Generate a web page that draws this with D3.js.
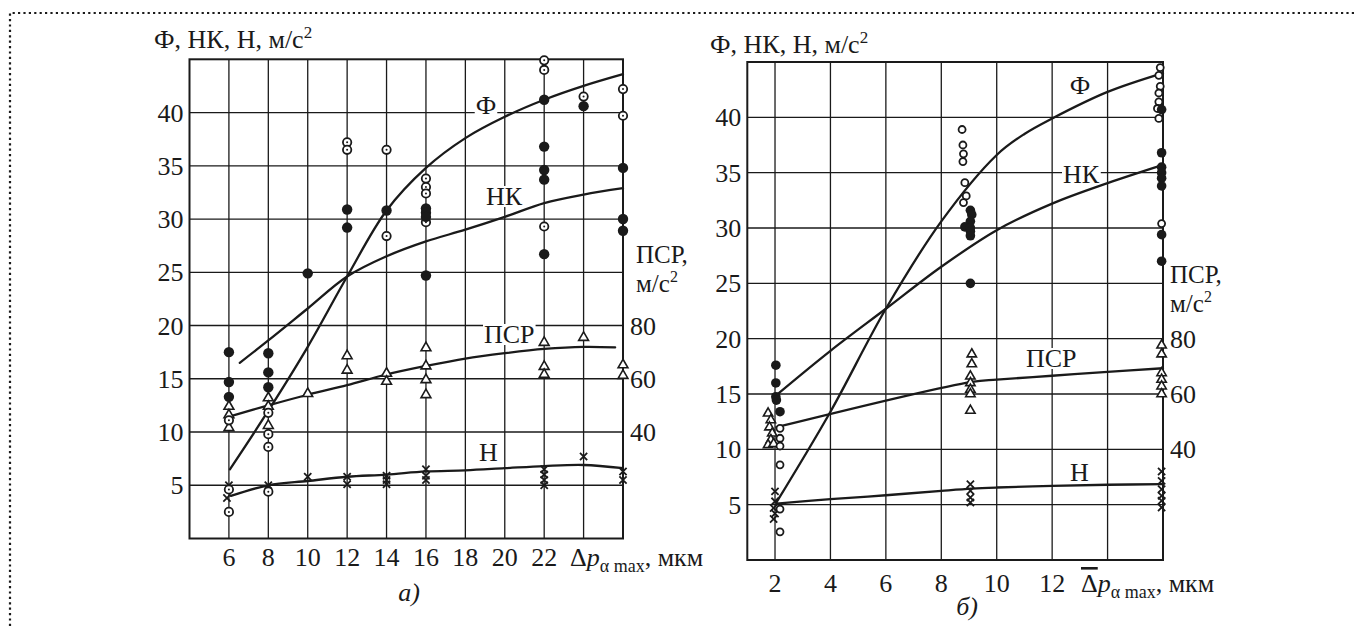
<!DOCTYPE html>
<html><head><meta charset="utf-8">
<script src="https://cdn.jsdelivr.net/npm/d3@7"></script>
<style>
html,body{margin:0;padding:0;background:#fff}
svg{display:block}
text{font-family:"Liberation Serif","DejaVu Serif",serif;fill:#1a1a1a}
</style>
</head><body>
<svg id="c" width="1357" height="626"></svg>
<script>
// ---------------- DATA ----------------
const yGridValues = [5,10,15,20,25,30,35,40];
const yTickLabels = [5,10,15,20,25,30,35,40];
const psrTickLabels = [40,60,80];
const titleText = "Ф, НК, Н, м/с";

// Panel a)
const aGridX = [6,8,10,12,14,16,18,20,22,24];
const aTickX = [6,8,10,12,14,16,18,20,22];
const aF_x  = [6.05, 8, 10, 12, 14, 16, 18, 20, 22, 24, 26];
const aF_y  = [6.5, 12.0, 18.0, 24.6, 30.8, 34.8, 37.6, 39.6, 41.2, 42.5, 43.6];
const aNK_x = [6.55, 8, 10, 12, 14, 16, 18, 20, 22, 24, 26];
const aNK_y = [16.5, 18.6, 21.6, 24.6, 26.5, 27.9, 29.0, 30.2, 31.5, 32.3, 32.9];
const aPSR_x = [6.1, 8, 10, 12, 14, 16, 18, 20, 22, 24, 25.6];
const aPSR_y = [46, 50, 54, 57.6, 61.6, 64.8, 67.6, 69.6, 71.2, 72, 71.8];
const aN_x  = [6.1, 8, 10, 12, 14, 16, 18, 20, 22, 24, 26];
const aN_y  = [4.0, 5.0, 5.4, 5.8, 6.0, 6.3, 6.4, 6.6, 6.8, 6.9, 6.6];
const aFilled = [[6,17.5],[6,14.7],[6,13.3],[8,17.4],[8,15.6],[8,14.2],[10,24.9],[12,30.9],[12,29.2],
  [14,30.8],[16,31.0],[16,30.6],[16,30.2],[16,24.7],[22,41.2],[22,36.8],[22,34.6],[22,33.7],[22,26.7],
  [24,40.6],[26,34.8],[26,30.0],[26,28.9]];
const aOpen = [[6,11.1],[6,4.6],[6,2.5],[8,11.8],[8,9.8],[8,8.6],[8,4.4],[12,37.2],[12,36.5],[14,36.5],
  [14,28.4],[16,33.8],[16,33.0],[16,32.4],[16,29.7],[22,44.9],[22,44.0],[22,29.3],[24,41.5],[26,42.2],[26,39.7]];
const aTri = [[6,49.6],[6,46.4],[6,41.6],[8,52.8],[8,49.6],[8,42.4],[10,54.4],[12,68.6],[12,63.2],[14,62],
  [14,59],[16,71.6],[16,64.8],[16,59.6],[16,54],[22,73.6],[22,64.6],[22,61.6],[24,75.5],[26,65.2],[26,61.2]];
const aCross = [[6,5.0],[5.9,3.8],[8,5.0],[10,5.8],[12,5.8],[12,5.1],[14,5.9],[14,5.5],[14,5.1],[16,6.5],
  [16,5.9],[16,5.5],[22,6.5],[22,6.0],[22,5.5],[22,5.0],[24,7.7],[26,6.3],[26,5.5]];

// Panel б)
const bGridX = [2,4,6,8,10,12,14];
const bTickX = [2,4,6,8,10,12];
const bF_x  = [2.05, 4, 6, 8, 10, 11, 12, 14, 16];
const bF_y  = [5.2, 13.4, 22.7, 30.6, 36.6, 38.5, 39.9, 42.3, 44.0];
const bNK_x = [2.05, 4, 6, 8, 10, 12, 14, 16];
const bNK_y = [14.9, 18.9, 22.7, 26.5, 29.8, 32.2, 34.05, 35.7];
const bPSR_x = [2.05, 9.1, 10, 12, 14, 16];
const bPSR_y = [48, 64.4, 65.2, 66.6, 68, 69.3];
const bN_x  = [2.05, 4, 6, 8, 9.1, 10, 12, 14, 16];
const bN_y  = [5.1, 5.5, 5.85, 6.25, 6.45, 6.55, 6.7, 6.8, 6.85];
const bFilled = [[2.03,17.6],[2.03,16.0],[2.03,14.75],[2.05,14.45],[2.18,13.4],
  [9.05,31.6],[9.1,31.2],[9.05,30.6],[8.85,30.1],[9.05,30.0],[9.05,29.7],[9.05,29.3],[9.05,25.0],
  [15.95,40.7],[15.95,36.8],[15.95,35.5],[15.95,35.0],[15.95,34.5],[15.95,33.8],[15.95,29.4],[15.95,27.0]];
const bOpen = [[2.18,11.9],[2.18,11.0],[2.18,10.3],[2.18,8.6],[2.18,4.6],[2.18,2.55],
  [8.75,38.9],[8.78,37.5],[8.8,36.7],[8.78,36.0],[8.85,34.1],[8.9,32.9],[8.8,32.3],
  [15.9,44.5],[15.85,43.8],[15.9,42.8],[15.85,42.2],[15.85,41.4],[15.8,40.8],[15.85,39.9],[15.95,30.4]];
const bTri = [[1.75,53],[1.85,50.6],[1.8,48],[1.9,45.8],[1.85,43.4],[1.75,41.6],[1.95,42],
  [9.1,74.4],[9.1,70.8],[9.05,66.4],[9.05,64],[9.05,61.6],[9.05,60],[9.05,54],
  [15.95,77.6],[15.95,74.4],[15.95,67.6],[15.95,65.2],[15.95,62.8],[15.95,60]];
const bCross = [[2.0,6.2],[2.0,5.3],[1.95,4.7],[2.0,4.2],[1.95,3.7],
  [9.05,6.85],[9.05,6.25],[9.05,5.65],[9.05,5.2],
  [15.95,8.0],[15.95,7.15],[15.95,6.4],[15.95,5.8],[15.95,5.35],[15.95,4.75]];

// ---------------- DRAW ----------------
const svg = d3.select("#c");
const ink = "#1a1a1a";
svg.append("rect").attr("width",1357).attr("height",626).attr("fill","#fff");
// dotted frame (top + left)
svg.append("path").attr("d","M10,626V13H1357").attr("fill","none")
  .attr("stroke",ink).attr("stroke-width",2.2).attr("stroke-dasharray","2.2,3.2");

function zip(xs, ys){ return xs.map((x,i)=>[x, ys[i]]); }

function panel(cfg){
  const g = svg.append("g");
  const x = d3.scaleLinear().domain(cfg.xDomain).range(cfg.xRange);
  const y = d3.scaleLinear().domain([0,45]).range(cfg.yRange);
  const y2 = d3.scaleLinear().domain([0,180]).range(cfg.yRange);
  const [x0,x1] = cfg.xRange, [yb,yt] = cfg.yRange;

  // grid
  const grid = g.append("g").attr("stroke",ink).attr("stroke-width",1.3);
  grid.selectAll(".gv").data(cfg.gridX).join("line")
    .attr("x1",d=>x(d)).attr("x2",d=>x(d)).attr("y1",yb).attr("y2",yt);
  grid.selectAll(".gh").data(yGridValues).join("line")
    .attr("x1",x0).attr("x2",x1).attr("y1",d=>y(d)).attr("y2",d=>y(d));
  // frame
  g.append("rect").attr("x",x0).attr("y",yt).attr("width",x1-x0).attr("height",yb-yt)
    .attr("fill","none").attr("stroke",ink).attr("stroke-width",2);

  // in-plot labels with white backgrounds
  const lblG = g.append("g");
  cfg.labels.forEach(l=>{
    const t = lblG.append("text").attr("x",l.x).attr("y",l.y).attr("font-size",26)
      .attr("text-anchor",l.anchor||"start").text(l.t);
    const bb = t.node().getBBox();
    lblG.insert("rect","text").attr("x",bb.x-1).attr("y",bb.y+4).attr("width",bb.width+2)
      .attr("height",bb.height-8).attr("fill","#fff");
  });

  // curves
  const cv = d3.curveCatmullRom.alpha(0.5);
  const line = d3.line().x(d=>x(d[0])).y(d=>y(d[1])).curve(cv);
  const line2 = d3.line().x(d=>x(d[0])).y(d=>y2(d[1])).curve(cv);
  const cg = g.append("g").attr("fill","none").attr("stroke",ink).attr("stroke-width",2.3)
    .attr("stroke-linecap","round");
  cg.append("path").attr("d",line(cfg.F));
  cg.append("path").attr("d",line(cfg.NK));
  cg.append("path").attr("d",line2(cfg.PSR));
  cg.append("path").attr("d",line(cfg.N));

  // markers
  const mg = g.append("g");
  mg.selectAll(".tri").data(cfg.tri).join("path")
    .attr("transform",d=>`translate(${x(d[0])},${y2(d[1])})`)
    .attr("d",d3.symbol().type(d3.symbolTriangle).size(cfg.triSize))
    .attr("fill","#fff").attr("stroke",ink).attr("stroke-width",1.6);
  mg.selectAll(".cr").data(cfg.cross).join("path")
    .attr("transform",d=>`translate(${x(d[0])},${y(d[1])})`)
    .attr("d","M-3.6,-3.6L3.6,3.6M-3.6,3.6L3.6,-3.6")
    .attr("fill","none").attr("stroke",ink).attr("stroke-width",1.8);
  mg.selectAll(".op").data(cfg.open).join("circle")
    .attr("cx",d=>x(d[0])).attr("cy",d=>y(d[1])).attr("r",cfg.openR)
    .attr("fill","#fff").attr("stroke",ink).attr("stroke-width",1.8);
  if(cfg.openDot){
    mg.selectAll(".od").data(cfg.open).join("circle")
      .attr("cx",d=>x(d[0])).attr("cy",d=>y(d[1])).attr("r",1).attr("fill",ink);
  }
  mg.selectAll(".fi").data(cfg.filled).join("circle")
    .attr("cx",d=>x(d[0])).attr("cy",d=>y(d[1])).attr("r",cfg.filledR).attr("fill",ink);

  // tick labels
  const tg = g.append("g").attr("font-size",26);
  tg.selectAll(".yl").data(yTickLabels).join("text")
    .attr("x",x0-6).attr("y",d=>y(d)+9).attr("text-anchor","end").text(d=>d);
  tg.selectAll(".xl").data(cfg.tickX).join("text")
    .attr("x",d=>x(d)).attr("y",cfg.xLabelY).attr("text-anchor","middle").text(d=>d);
  tg.selectAll(".pl").data(psrTickLabels).join("text")
    .attr("x",x1+7).attr("y",d=>y2(d)+9).text(d=>d);

  // titles
  const tt = g.append("text").attr("x",cfg.titleX).attr("y",cfg.titleY).attr("font-size",26);
  tt.append("tspan").text(titleText);
  tt.append("tspan").attr("dy",-10).attr("font-size",17).text("2");

  g.append("text").attr("x",cfg.psrX).attr("y",cfg.psrY).attr("font-size",25).text("ПСР,");
  const r2 = g.append("text").attr("x",cfg.psrX).attr("y",cfg.psrY+29).attr("font-size",25);
  r2.append("tspan").text("м/с");
  r2.append("tspan").attr("dy",-10).attr("font-size",16).text("2");

  const ax = g.append("text").attr("x",cfg.axX).attr("y",cfg.xLabelY).attr("font-size",26);
  const dl = ax.append("tspan").text("Δ");
  if(cfg.overbar) dl.style("text-decoration","overline");
  ax.append("tspan").attr("font-style","italic").text("p");
  ax.append("tspan").attr("dy",6).attr("font-size",18).text("α max");
  ax.append("tspan").attr("dy",-6).text(", мкм");

  g.append("text").attr("x",cfg.capX).attr("y",cfg.capY).attr("font-size",26)
    .attr("font-style","italic").attr("text-anchor","middle").text(cfg.cap);
}

panel({
  xDomain:[4,26], xRange:[189.5,623], yRange:[538.5,59.3],
  gridX:aGridX, tickX:aTickX,
  F:zip(aF_x,aF_y), NK:zip(aNK_x,aNK_y), PSR:zip(aPSR_x,aPSR_y), N:zip(aN_x,aN_y),
  filled:aFilled, open:aOpen, tri:aTri, cross:aCross,
  filledR:5.2, openR:4.2, openDot:true, triSize:42,
  labels:[{t:"Ф",x:486,y:114,anchor:"middle"},{t:"НК",x:486,y:205},{t:"ПСР",x:484,y:343},{t:"Н",x:479,y:461}],
  titleX:154, titleY:48, psrX:636, psrY:263, xLabelY:566, axX:570, cap:"а)", capX:409, capY:601, overbar:false
});
panel({
  xDomain:[1,16], xRange:[747.3,1163], yRange:[560,62],
  gridX:bGridX, tickX:bTickX,
  F:zip(bF_x,bF_y), NK:zip(bNK_x,bNK_y), PSR:zip(bPSR_x,bPSR_y), N:zip(bN_x,bN_y),
  filled:bFilled, open:bOpen, tri:bTri, cross:bCross,
  filledR:4.8, openR:3.5, openDot:false, triSize:38,
  labels:[{t:"Ф",x:1080,y:94,anchor:"middle"},{t:"НК",x:1063,y:183},{t:"ПСР",x:1026,y:367},{t:"Н",x:1070,y:481}],
  titleX:710, titleY:53, psrX:1170, psrY:283, xLabelY:592, axX:1081, cap:"б)", capX:967, capY:615, overbar:true
});
</script>
</body></html>
